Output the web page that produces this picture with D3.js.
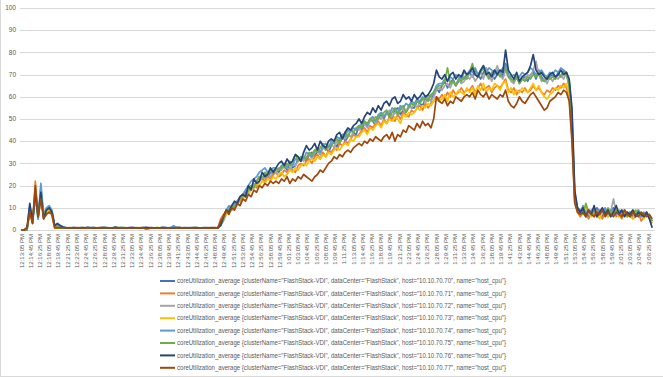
<!DOCTYPE html>
<html>
<head>
<meta charset="utf-8">
<script src="https://cdn.jsdelivr.net/npm/d3@7"></script>
<style>
  html, body { margin: 0; padding: 0; background: #fff; }
  svg { display: block; font-family: "Liberation Sans", Arial, sans-serif; }
</style>
</head>
<body>
<svg id="chart"></svg>
<script>
// samples every 30 s starting 12:13:05 PM
const stepSec = 30;
const labelStepSec = 100;

const tickLabels = [
  "12:13:05 PM","12:14:45 PM","12:16:25 PM","12:18:05 PM","12:19:45 PM","12:21:25 PM","12:23:05 PM",
  "12:24:45 PM","12:26:25 PM","12:28:05 PM","12:29:45 PM","12:31:25 PM","12:33:05 PM","12:34:45 PM",
  "12:36:25 PM","12:38:05 PM","12:39:45 PM","12:41:25 PM","12:43:05 PM","12:44:45 PM","12:46:25 PM",
  "12:48:05 PM","12:49:45 PM","12:51:25 PM","12:53:05 PM","12:54:45 PM","12:56:25 PM","12:58:05 PM",
  "12:59:45 PM","1:01:25 PM","1:03:05 PM","1:04:45 PM","1:06:25 PM","1:08:05 PM","1:09:45 PM",
  "1:11:25 PM","1:13:05 PM","1:14:45 PM","1:16:25 PM","1:18:05 PM","1:19:45 PM","1:21:25 PM",
  "1:23:05 PM","1:24:45 PM","1:26:25 PM","1:28:05 PM","1:29:45 PM","1:31:25 PM","1:33:05 PM",
  "1:34:45 PM","1:36:25 PM","1:38:05 PM","1:39:45 PM","1:41:25 PM","1:43:05 PM","1:44:45 PM",
  "1:46:25 PM","1:48:05 PM","1:49:45 PM","1:51:25 PM","1:53:05 PM","1:54:45 PM","1:56:25 PM",
  "1:58:05 PM","1:59:45 PM","2:01:25 PM","2:03:05 PM","2:04:45 PM","2:06:25 PM"
];

const yTicks = [0, 10, 20, 30, 40, 50, 60, 70, 80, 90, 100];

const hosts = ["10.10.70.70","10.10.70.71","10.10.70.72","10.10.70.73",
               "10.10.70.74","10.10.70.75","10.10.70.76","10.10.70.77"];
const colors = ["#4472C4","#ED7D31","#A5A5A5","#FFC000","#5B9BD5","#70AD47","#264478","#9E480E"];

const host70 = [
  0,0,0,10,3,16,5,19,6,8,10,8,2,2,1,
  1.0,1.1,1.0,0.9,1.0,1.0,1.1,1.0,0.9,1.0,1.0,1.2,1.0,1.0,0.9,1.0,1.1,1.0,1.0,1.0,
  0.9,1.0,1.1,1.0,1.0,1.2,1.0,0.9,1.0,1.0,1.0,1.1,1.0,1.0,1.0,0.9,1.0,1.2,1.0,1.0,
  1.1,1.0,0.9,1.0,1.0,1.0,1.1,1.0,1.0,0.9,1.0,1.0,1.1,1.0,1.0,0.9,1.0,
  3,5,8,10,9,11,13,14,14,17,
  18,20,19,22,24,23,25,24,26,25,
  27,26,28,29,27,30,28,29,32,31,
  33,31,34,35,33,36,34,38,37,35,
  38,40,37,41,43,40,42,45,44,43,
  47,45,48,47,50,49,47,51,52,50,
  53,51,50,54,55,52,54,53,56,55,
  55,58,57,56,59,60,58,61,64,62,
  65,67,64,66,68,65,67,69,68,70,
  71,69,72,70,68,71,73,69,70,68,
  70,72,69,75,70,68,67,69,66,68,
  69,67,70,71,68,72,69,67,68,69,
  70,68,71,69,72,70,66,
  48,15,9,
  7,9,8,6,9,7,10,8,6,9,7,8,10,7,8,6,9,7,8,6,7,9,6,7,8,6,4
];

const host71 = [
  0,0,1,8,3,22,6,14,6,8,9,7,1,1,1,
  0.9,1.0,1.0,0.9,1.0,1.1,1.0,0.9,1.0,1.0,0.9,1.0,1.0,1.1,1.0,0.9,1.0,1.0,1.0,0.9,
  1.0,1.1,1.0,0.9,1.0,1.0,0.9,1.0,1.0,1.1,0.9,1.0,1.0,1.0,0.9,1.0,1.1,1.0,0.9,1.0,
  1.0,0.9,1.0,1.0,1.1,1.0,0.9,1.0,1.0,1.0,0.9,1.0,1.0,1.1,1.0,0.9,1.0,
  5,7,8,9,11,10,12,13,15,16,
  17,19,20,19,22,23,22,24,23,25,
  26,24,25,27,26,28,27,26,29,30,
  29,31,32,30,33,34,32,35,33,36,
  35,37,36,39,38,40,39,41,43,42,
  43,45,46,44,47,46,48,49,47,50,
  48,51,50,49,52,50,53,52,51,54,
  53,55,56,54,57,55,57,58,60,59,
  61,59,62,60,63,61,62,64,62,63,
  63,65,62,64,66,63,64,65,62,64,
  65,64,66,68,63,62,64,61,63,62,
  64,62,63,65,63,64,62,61,63,62,
  64,63,65,64,66,64,60,
  42,13,8,
  6,8,7,5,8,6,9,7,5,8,6,7,9,6,7,5,8,6,7,5,6,8,4,6,7,5,3
];

const host72 = [
  0,0,0,9,4,18,5,15,6,9,9,7,1,2,1,
  1.0,1.0,1.1,1.0,0.9,1.0,1.0,1.0,1.1,1.0,0.9,1.0,1.0,1.0,1.2,1.0,0.9,1.0,1.0,1.1,
  1.0,1.0,0.9,1.0,1.0,1.0,1.1,1.0,1.0,0.9,1.0,1.0,1.1,1.0,1.0,1.0,0.9,1.0,1.0,1.2,
  1.0,1.0,1.0,0.9,1.0,1.1,1.0,1.0,1.0,0.9,1.0,1.1,1.0,1.0,0.9,1.0,1.0,
  2,4,7,10,9,12,11,14,16,15,
  17,19,21,20,22,24,23,25,24,27,
  26,28,27,29,28,27,30,29,31,32,
  31,33,34,32,35,36,34,37,36,38,
  39,37,40,39,42,41,43,42,44,46,
  45,47,48,46,49,50,48,51,50,52,
  52,54,51,53,52,55,54,53,56,55,
  57,55,58,59,57,60,58,60,63,64,
  63,65,66,64,67,65,68,66,67,69,
  68,70,67,69,71,68,73,70,67,71,
  74,70,68,72,69,67,66,69,67,68,
  68,70,69,72,76,70,67,68,66,69,
  67,69,68,70,68,71,64,
  45,14,9,
  8,7,9,7,8,10,7,9,8,7,9,8,14,8,6,9,7,8,6,9,7,8,6,7,8,6,4
];

const host73 = [
  0,0,1,8,4,17,6,14,7,8,9,7,1,1,1,
  1.0,0.9,1.0,1.0,1.0,0.9,1.0,1.1,1.0,1.0,0.9,1.0,1.0,1.0,0.9,1.1,1.0,1.0,0.9,1.0,
  1.0,1.0,1.1,0.9,1.0,1.0,1.0,0.9,1.1,1.0,1.0,0.9,1.0,1.0,1.1,1.0,1.0,0.9,1.0,1.0,
  0.9,1.1,1.0,1.0,1.0,0.9,1.0,1.0,1.1,1.0,1.0,0.9,1.0,1.0,1.0,1.1,1.0,
  3,6,7,8,10,9,12,11,14,15,
  16,18,19,21,20,22,21,23,22,24,
  23,25,26,24,25,27,26,28,27,29,
  30,29,31,32,31,33,32,34,33,35,
  34,36,37,36,38,39,38,41,40,42,
  42,44,45,43,46,45,47,48,46,49,
  48,50,49,51,50,48,52,51,53,52,
  53,55,54,56,55,57,56,58,59,58,
  59,61,58,62,60,61,63,62,61,64,
  62,64,61,65,63,66,62,64,63,66,
  65,63,66,67,62,64,61,63,62,64,
  63,62,64,66,63,65,62,60,59,61,
  62,64,63,65,64,66,61,
  44,14,8,
  9,7,11,8,6,9,7,5,8,7,6,9,7,8,6,7,8,6,7,5,8,6,7,5,7,6,4
];

const host74 = [
  0,0,0,11,3,16,5,21,7,10,11,9,2,2,2,
  1.5,1.1,1.0,1.0,1.1,1.0,1.0,1.2,1.0,1.0,1.1,1.0,1.0,1.0,1.1,1.3,1.0,1.0,1.1,1.0,
  1.0,1.2,1.0,1.0,1.0,1.1,1.0,1.0,1.0,1.2,1.0,1.0,1.1,1.0,1.0,1.0,1.2,1.0,1.0,1.1,
  1.9,1.2,1.0,1.0,1.1,1.0,1.0,1.0,1.2,1.0,1.0,1.1,1.0,1.0,1.0,1.1,1.0,
  3,6,9,11,10,12,13,15,16,18,
  20,22,23,24,26,27,28,26,27,28,
  28,27,29,30,28,31,29,32,31,33,
  32,35,34,33,36,37,35,38,39,37,
  40,39,42,41,43,42,45,44,46,45,
  46,48,49,47,50,51,49,52,53,51,
  53,52,55,54,53,56,55,57,56,58,
  57,59,58,60,59,61,60,62,65,66,
  66,68,67,69,68,70,69,68,71,70,
  72,71,73,70,72,74,71,73,72,70,
  72,71,73,74,70,69,70,68,69,71,
  70,71,73,72,70,71,72,70,69,71,
  70,72,71,73,72,71,67,
  52,17,9,
  8,11,7,9,8,10,7,9,8,10,7,9,8,7,9,8,7,8,6,8,7,9,6,8,7,6,4
];

const host75 = [
  0,0,0,9,4,15,6,16,7,9,10,8,2,2,1,
  1.0,1.0,1.0,1.1,1.0,1.0,0.9,1.0,1.0,1.1,1.0,1.0,1.0,0.9,1.0,1.1,1.0,1.0,1.0,1.0,
  1.1,1.0,1.0,0.9,1.0,1.0,1.0,1.1,1.0,1.0,1.0,0.9,1.0,1.0,1.1,1.0,1.0,1.0,1.0,0.9,
  1.0,1.1,1.0,1.0,1.0,1.0,0.9,1.0,1.1,1.0,1.0,1.0,0.9,1.0,1.0,1.0,1.1,
  2,5,8,9,11,10,13,14,16,15,
  18,20,19,22,24,23,26,25,27,26,
  28,27,29,28,30,29,31,34,31,33,
  33,32,35,34,36,35,37,39,36,38,
  38,40,41,39,42,44,42,45,44,46,
  47,46,49,48,50,49,51,50,52,53,
  54,51,53,55,52,54,56,53,55,57,
  56,58,57,59,60,58,61,62,64,65,
  65,67,73,66,67,65,68,67,69,68,
  71,75,70,69,71,73,70,68,71,72,
  71,69,72,73,69,68,67,69,66,68,
  67,69,68,70,69,71,68,67,69,68,
  69,68,70,69,71,70,65,
  46,15,10,
  9,7,12,8,7,9,6,8,9,7,10,8,7,9,8,7,9,6,8,7,9,7,8,6,7,6,4
];

const host76 = [
  0,0,1,12,4,17,6,17,5,9,10,8,2,3,2,
  1.2,1.0,0.9,1.0,1.1,1.0,0.9,1.0,1.0,1.2,1.0,0.9,1.0,1.0,1.1,1.0,1.0,0.9,1.0,1.3,
  1.0,1.0,0.9,1.0,1.1,1.0,1.0,1.0,0.9,1.0,1.2,1.0,1.0,0.9,1.0,1.0,1.1,1.0,1.0,0.9,
  1.0,1.0,1.2,1.0,1.0,0.9,1.0,1.1,1.0,1.0,1.0,0.9,1.0,1.0,1.1,1.0,1.0,
  2,6,9,8,11,13,12,15,16,15,
  20,18,23,21,22,26,24,25,28,26,
  28,30,31,29,32,30,31,34,33,31,
  35,38,36,37,39,36,40,38,37,40,
  41,40,43,44,41,44,46,45,47,48,
  50,48,51,53,52,55,53,56,54,57,
  58,56,59,60,57,58,61,59,60,58,
  61,59,60,62,60,61,63,66,72,69,
  68,70,67,70,71,68,70,69,72,70,
  71,73,70,69,72,74,70,71,69,72,
  70,72,71,81,72,70,68,71,67,69,
  70,71,74,79,72,70,71,69,68,70,
  71,69,70,72,70,71,68,
  55,18,10,
  8,10,6,9,7,11,6,8,10,7,9,6,8,11,7,9,6,8,7,9,6,8,7,6,8,5,1
];

const host77 = [
  0,0,1,8,3,20,6,14,5,7,8,7,1,1,1,
  1.0,0.9,0.9,1.0,0.9,0.9,1.0,0.8,0.9,1.0,0.9,0.9,0.8,1.0,0.9,0.9,1.0,0.9,0.9,0.8,
  0.9,1.0,0.9,0.9,0.9,0.8,0.9,1.0,0.9,0.9,0.5,0.6,0.9,0.9,1.0,0.9,0.8,0.9,0.9,1.0,
  0.9,0.9,0.8,0.9,1.0,0.9,0.9,0.9,0.8,0.9,1.0,0.9,0.9,0.9,0.8,0.9,1.0,
  4,6,9,7,10,9,12,11,14,13,
  16,15,18,17,20,19,21,20,22,21,
  22,21,23,22,24,21,23,22,24,23,
  25,24,23,22,24,25,27,26,28,30,
  31,33,32,34,33,35,36,35,37,38,
  39,38,40,39,41,40,42,41,40,42,
  43,41,44,40,43,42,45,44,47,46,
  45,48,46,49,47,48,46,50,60,58,
  57,59,56,58,57,60,59,58,60,61,
  60,62,59,63,61,60,62,59,61,60,
  59,61,60,63,58,56,55,57,60,58,
  57,59,61,62,60,58,56,54,55,58,
  59,60,62,61,63,62,58,
  40,12,8,
  7,8,6,9,7,6,8,7,9,6,8,7,6,8,7,6,9,7,6,8,7,6,8,7,6,7,5
];

const seriesValues = [host70, host71, host72, host73, host74, host75, host76, host77];

const width = 663, height = 377;
const svg = d3.select("#chart").attr("width", width).attr("height", height);

svg.append("rect").attr("width", width).attr("height", height).attr("fill", "#fff");

// chart frame (left and bottom edges visible)
svg.append("line").attr("x1", 0.5).attr("x2", 0.5).attr("y1", 0).attr("y2", height)
  .attr("stroke", "#d9d9d9");
svg.append("line").attr("x1", 0).attr("x2", width).attr("y1", height - 0.5).attr("y2", height - 0.5)
  .attr("stroke", "#d9d9d9");

const plot = { left: 20, right: 655, top: 8, bottom: 230 };

const x = d3.scaleLinear()
  .domain([0, (tickLabels.length - 1) * labelStepSec])
  .range([21.5, 648.5]);

const y = d3.scaleLinear()
  .domain([0, 100])
  .range([plot.bottom, plot.top]);

// horizontal gridlines
svg.append("g")
  .selectAll("line")
  .data(yTicks)
  .join("line")
  .attr("x1", plot.left)
  .attr("x2", plot.right)
  .attr("y1", d => Math.round(y(d)) + 0.5)
  .attr("y2", d => Math.round(y(d)) + 0.5)
  .attr("stroke", "#d9d9d9")
  .attr("stroke-width", 1);

// y axis labels
svg.append("g")
  .selectAll("text")
  .data(yTicks)
  .join("text")
  .attr("x", 16)
  .attr("y", d => y(d))
  .attr("dy", "0.35em")
  .attr("text-anchor", "end")
  .attr("font-size", 6.5)
  .attr("fill", "#595959")
  .text(d => d);

// x axis labels, rotated
svg.append("g")
  .selectAll("text")
  .data(tickLabels)
  .join("text")
  .attr("transform", (d, i) => `translate(${x(i * labelStepSec)},234) rotate(-90)`)
  .attr("dy", "0.35em")
  .attr("text-anchor", "end")
  .attr("font-size", 6)
  .attr("fill", "#595959")
  .text(d => d);

// lines
const line = d3.line()
  .x((d, i) => x(i * stepSec))
  .y(d => y(d));

svg.append("g")
  .selectAll("path")
  .data(seriesValues)
  .join("path")
  .attr("fill", "none")
  .attr("stroke", (d, i) => colors[i])
  .attr("stroke-width", 1.7)
  .attr("stroke-linejoin", "round")
  .attr("d", d => line(d));

// legend
const legend = svg.append("g")
  .selectAll("g")
  .data(hosts)
  .join("g")
  .attr("transform", (d, i) => `translate(0,${281 + i * 12.4})`);

legend.append("line")
  .attr("x1", 160).attr("x2", 175)
  .attr("stroke", (d, i) => colors[i])
  .attr("stroke-width", 2);

legend.append("text")
  .attr("x", 177)
  .attr("dy", "0.35em")
  .attr("font-size", 6.4)
  .attr("fill", "#595959")
  .attr("textLength", 329)
  .attr("lengthAdjust", "spacingAndGlyphs")
  .text(d => `coreUtilization_average {clusterName="FlashStack-VDI", dataCenter="FlashStack", host="${d}", name="host_cpu"}`);
</script>
</body>
</html>
